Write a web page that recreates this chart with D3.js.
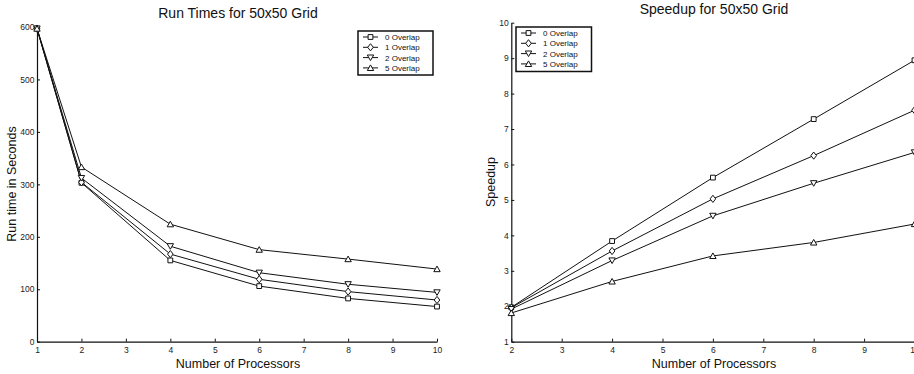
<!DOCTYPE html>
<html><head><meta charset="utf-8">
<script src="https://cdn.jsdelivr.net/npm/d3@7"></script>
<style>
html,body{margin:0;padding:0;background:#fff;}
svg{display:block;font-family:"Liberation Sans",Arial,Helvetica,sans-serif;}
</style></head>
<body>
<svg id="chart" width="914" height="374"></svg>
<script>
// ---- Data ----
const processors = [1, 2, 4, 6, 8, 10];
const seriesNames = ["0 Overlap", "1 Overlap", "2 Overlap", "5 Overlap"];
const markerTypes = ["square", "diamond", "triangleDown", "triangleUp"];

const runTime0 = [597, 303, 155, 106, 82.5, 67];
const runTime1 = [597, 304, 167, 119, 95.5, 79.5];
const runTime2 = [597, 312, 182, 131.5, 109.5, 94];
const runTime5 = [597, 333, 224, 175.5, 157.5, 138.5];

const speedupProcs = [2, 4, 6, 8, 10];
const speedup0 = [1.97, 3.84, 5.63, 7.28, 8.94];
const speedup1 = [1.96, 3.56, 5.03, 6.25, 7.53];
const speedup2 = [1.92, 3.29, 4.55, 5.47, 6.34];
const speedup5 = [1.81, 2.70, 3.42, 3.80, 4.32];

const runXTicks = [1, 2, 3, 4, 5, 6, 7, 8, 9, 10];
const runYTicks = [0, 100, 200, 300, 400, 500, 600];
const spXTicks = [2, 3, 4, 5, 6, 7, 8, 9, 10];
const spYTicks = [1, 2, 3, 4, 5, 6, 7, 8, 9, 10];

const runSeries = [runTime0, runTime1, runTime2, runTime5];
const spSeries = [speedup0, speedup1, speedup2, speedup5];

// ---- Drawing ----
const svg = d3.select("#chart");
const ink = "#111";

function marker(g, type, x, y) {
  let p;
  if (type === "square") {
    p = `M${x-2.4},${y-2.4}h4.8v4.8h-4.8Z`;
  } else if (type === "diamond") {
    p = `M${x},${y-3.6}L${x+2.8},${y}L${x},${y+3.6}L${x-2.8},${y}Z`;
  } else if (type === "triangleDown") {
    p = `M${x-3.2},${y-2.6}L${x+3.2},${y-2.6}L${x},${y+3}Z`;
  } else {
    p = `M${x-3.2},${y+2.6}L${x+3.2},${y+2.6}L${x},${y-3}Z`;
  }
  g.append("path").attr("d", p).attr("fill", "#fff").attr("stroke", ink).attr("stroke-width", 1);
}

function panel(cfg) {
  const g = svg.append("g");
  const x = d3.scaleLinear().domain(cfg.xDomain).range(cfg.xRange);
  const y = d3.scaleLinear().domain(cfg.yDomain).range(cfg.yRange);

  // axes (ticks inward)
  const xAxis = d3.axisBottom(x).tickValues(cfg.xTicks).tickSizeInner(-3).tickSizeOuter(0).tickPadding(5);
  const gx = g.append("g").attr("transform", `translate(0,${cfg.yRange[0]})`).call(xAxis);
  const yAxis = d3.axisLeft(y).tickValues(cfg.yTicks).tickSizeInner(-3).tickSizeOuter(0).tickPadding(2.5);
  const gy = g.append("g").attr("transform", `translate(${cfg.xRange[0]},0)`).call(yAxis);
  [gx, gy].forEach(a => {
    a.select(".domain").attr("stroke", ink).attr("stroke-width", 1.2);
    a.selectAll(".tick line").attr("stroke", ink);
    a.selectAll(".tick text").attr("fill", "#222").attr("font-size", 8.5)
      .attr("font-family", "Liberation Sans, Arial, sans-serif");
  });

  // lines
  const line = d3.line().x((d, i) => x(cfg.xs[i])).y(d => y(d));
  cfg.series.forEach((s, k) => {
    g.append("path").datum(s).attr("d", line).attr("fill", "none")
      .attr("stroke", ink).attr("stroke-width", 1);
  });
  cfg.series.forEach((s, k) => {
    s.forEach((v, i) => marker(g, markerTypes[k], x(cfg.xs[i]), y(v)));
  });

  // titles
  g.append("text").attr("x", cfg.titleX).attr("y", cfg.titleY).attr("text-anchor", "middle")
    .attr("font-size", 14).attr("fill", ink).text(cfg.title);
  g.append("text").attr("x", cfg.titleX).attr("y", 367.5).attr("text-anchor", "middle")
    .attr("font-size", 12.5).attr("fill", ink).text("Number of Processors");
  g.append("text").attr("transform", `translate(${cfg.yLabelX},${cfg.yLabelY}) rotate(-90)`)
    .attr("text-anchor", "middle").attr("font-size", 12.5).attr("fill", ink).text(cfg.yLabel);

  // legend
  const L = cfg.legend;
  g.append("rect").attr("x", L.x).attr("y", L.y).attr("width", L.w).attr("height", L.h)
    .attr("fill", "#fff").attr("stroke", ink).attr("stroke-width", 1.5);
  seriesNames.forEach((n, k) => {
    const yy = L.y + 6 + k * 10.3;
    g.append("line").attr("x1", L.x + 5).attr("x2", L.x + 20).attr("y1", yy).attr("y2", yy)
      .attr("stroke", ink).attr("stroke-width", 1);
    marker(g, markerTypes[k], L.x + 12.5, yy);
    g.append("text").attr("x", L.x + 27).attr("y", yy + 2.9).attr("font-size", 8)
      .attr("fill", "#111").text(n);
  });
}

panel({
  xDomain: [1, 10], xRange: [37, 437],
  yDomain: [0, 600], yRange: [341.7, 27],
  xTicks: runXTicks, yTicks: runYTicks,
  xs: processors, series: runSeries,
  title: "Run Times for 50x50 Grid", titleX: 238, titleY: 18,
  yLabel: "Run time in Seconds", yLabelX: 16, yLabelY: 184,
  legend: {x: 358, y: 31, w: 75, h: 44}
});

panel({
  xDomain: [2, 10], xRange: [511.3, 914.5],
  yDomain: [1, 10], yRange: [341.7, 22.7],
  xTicks: spXTicks, yTicks: spYTicks,
  xs: speedupProcs, series: spSeries,
  title: "Speedup for 50x50 Grid", titleX: 714, titleY: 14,
  yLabel: "Speedup", yLabelX: 495, yLabelY: 182,
  legend: {x: 516, y: 27, w: 75.5, h: 44.5}
});
</script>
</body></html>
